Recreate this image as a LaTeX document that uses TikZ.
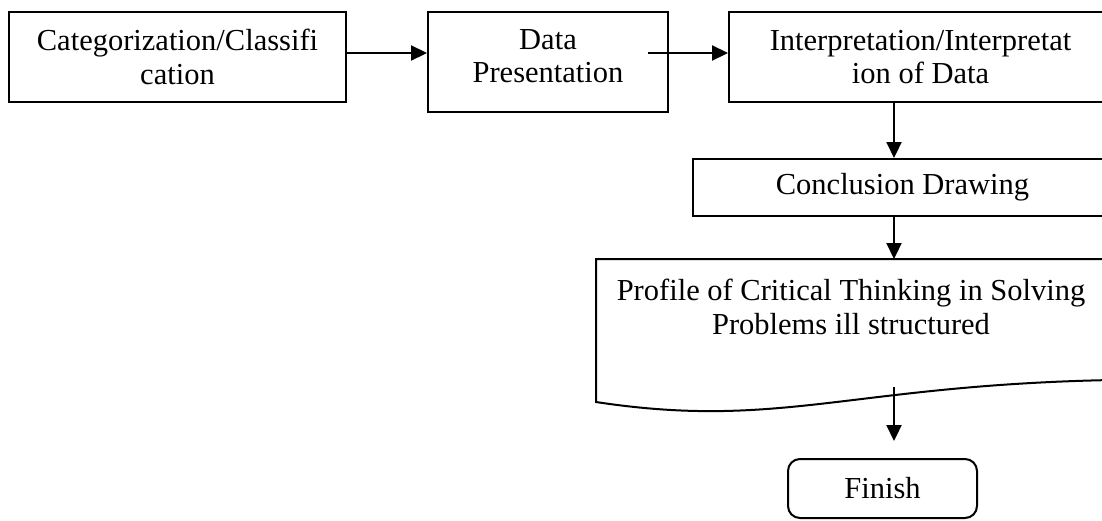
\documentclass[tikz,border=0pt]{standalone}
\usepackage{fontspec}
\setmainfont{Liberation Serif}
\usetikzlibrary{arrows.meta,calc}
\begin{document}
\begin{tikzpicture}[x=1pt,y=-1pt,
  font=\fontsize{30.5pt}{33.5pt}\selectfont,
  box/.style={draw, line width=2pt, rectangle, inner sep=0pt, align=center},
  lbl/.style={inner sep=0pt, align=center},
  arr/.style={draw, line width=2.2pt, -{Triangle[length=16pt,width=15pt]}}]
\useasboundingbox (0,0) rectangle (1102,520);
% boxes
\node[box, minimum width=337pt, minimum height=90pt] (b1) at (177.5,57) {Categorization/Classifi\\cation};
\node[box, minimum width=240pt, minimum height=100pt] (b2) at (548,62) {};
\node[lbl] (t2) at (548,56) {Data\\Presentation};
\node[box, minimum width=383pt, minimum height=90pt] (b3) at (920.5,57) {Interpretation/Interpretat\\ion of Data};
\node[box, minimum width=419pt, minimum height=57pt] (b4) at (902.5,187.5) {Conclusion Drawing};
% document shape
\draw[line width=2pt] (596,402) -- (596,259) -- (1112,259) -- (1112,380)
  .. controls (850,385) and (780,430) .. (596,402) -- cycle;
\node[lbl] (dt) at (851,307) {Profile of Critical Thinking in Solving\\Problems ill structured};
\node[box, rounded corners=12pt, minimum width=189pt, minimum height=59pt] (fin) at (882.5,488.5) {Finish};
% coordinates
\coordinate (s2) at (648,53);
\coordinate (col) at (894,0);
\coordinate (dtop) at (894,259);
\coordinate (s5) at (894,387);
\coordinate (e5) at (894,441);
% connectors
\draw[arr] (b1.east |- s2) -- (b2.west |- s2);
\draw[arr] (s2) -- (s2 -| b3.west);
\draw[arr] (col |- b3.south) -- (col |- b4.north);
\draw[arr] (col |- b4.south) -- (dtop);
\draw[arr] (s5) -- (e5);
\end{tikzpicture}
\end{document}
